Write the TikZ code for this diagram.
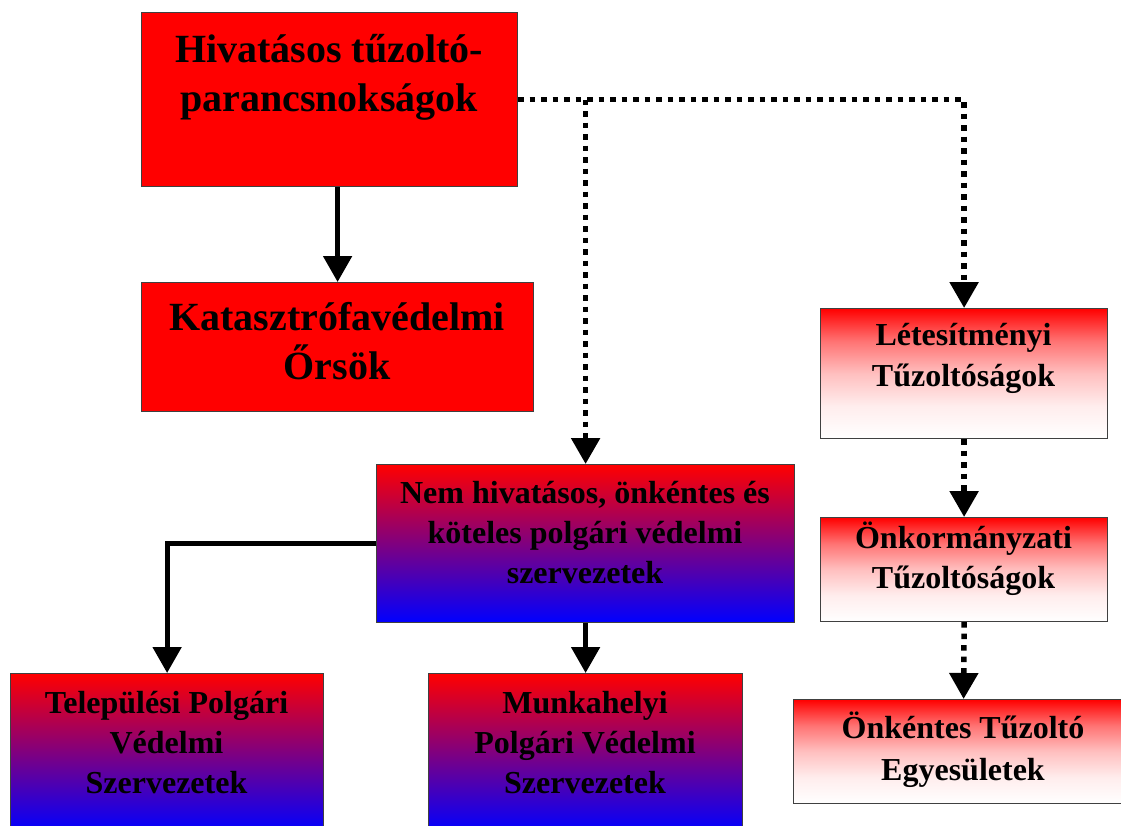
\documentclass[tikz,border=0pt]{standalone}
\usepackage{fontspec}
\setmainfont{Liberation Serif}
\usetikzlibrary{arrows.meta}
\pgfdeclareverticalshading{redwhitefade}{100bp}{color(0bp)=(white); color(25bp)=(white); color(37.5bp)=(red!7); color(50bp)=(red!25); color(62.5bp)=(red!55); color(69bp)=(red!78); color(75bp)=(red); color(100bp)=(red)}
\begin{document}
\begin{tikzpicture}[x=1pt,y=-1pt,
  box/.style={draw=black!75, line width=1.2pt, rectangle, inner sep=0pt, anchor=north west},
  redbox/.style={box, fill=red},
  whitegrad/.style={box, shading=redwhitefade},
  bluegrad/.style={box, top color=red, bottom color=blue},
  bigtxt/.style={inner sep=0pt, anchor=north, align=center, font=\bfseries\fontsize{40}{49}\selectfont},
  txt/.style={inner sep=0pt, anchor=north, align=center, font=\bfseries\fontsize{32}{40}\selectfont},
  solidarrow/.style={line width=5pt, -{Triangle[length=26pt,width=28pt]}},
  dotarrow/.style={line width=5.5pt, dash pattern=on 5.5pt off 6pt, -{Triangle[length=26pt,width=28pt]}}
]
\clip (0,0) rectangle (1121,825);
\fill[white] (0,0) rectangle (1121,825);

% boxes
\node[redbox, minimum width=376pt, minimum height=174pt] (b1) at (141,12) {};
\node[redbox, minimum width=392pt, minimum height=129pt] (b2) at (141,282) {};
\node[whitegrad, minimum width=287pt, minimum height=130pt] (b3) at (820,308) {};
\node[whitegrad, minimum width=287pt, minimum height=104pt] (b4) at (820,517) {};
\node[whitegrad, minimum width=340pt, minimum height=104pt] (b5) at (793,699) {};
\node[bluegrad, minimum width=418pt, minimum height=158pt] (b6) at (376,464) {};
\node[bluegrad, minimum width=313pt, minimum height=158pt] (b7) at (10,673) {};
\node[bluegrad, minimum width=314pt, minimum height=158pt] (b8) at (428,673) {};

% connectors
\coordinate (j1) at (b6.north |- b1.east);
\draw[solidarrow] (b2.north |- b1.south) -- (b2.north);
\draw[dotarrow] (b1.east) -| (b3.north);
\draw[dotarrow] (j1) -- (b6.north);
\draw[dotarrow] (b3.south) -- (b4.north);
\draw[dotarrow] (b4.south) -- (b5.north);
\draw[solidarrow] (b6.west) -| (b7.north);
\draw[solidarrow] (b6.south) -- (b8.north);

% texts
\node[bigtxt] (t1) at (329,22) {\rule{0pt}{40pt}Hivatásos tűzoltó-\\parancsnokságok};
\node[bigtxt] (t2) at (337,290) {\rule{0pt}{40pt}Katasztrófavédelmi\\Őrsök};
\node[txt, font=\bfseries\fontsize{32}{41}\selectfont] (t3) at (963.5,313) {\rule{0pt}{32pt}Létesítményi\\Tűzoltóságok};
\node[txt] (t4) at (963.5,516) {\rule{0pt}{32pt}Önkormányzati\\Tűzoltóságok};
\node[txt, font=\bfseries\fontsize{32}{42}\selectfont] (t5) at (963,706) {\rule{0pt}{32pt}Önkéntes Tűzoltó\\Egyesületek};
\node[txt] (t6) at (585,471) {\rule{0pt}{32pt}Nem hivatásos, önkéntes és\\köteles polgári védelmi\\szervezetek};
\node[txt] (t7) at (166.5,681) {\rule{0pt}{32pt}Települési Polgári\\Védelmi\\Szervezetek};
\node[txt] (t8) at (585,681) {\rule{0pt}{32pt}Munkahelyi\\Polgári Védelmi\\Szervezetek};
\end{tikzpicture}
\end{document}
